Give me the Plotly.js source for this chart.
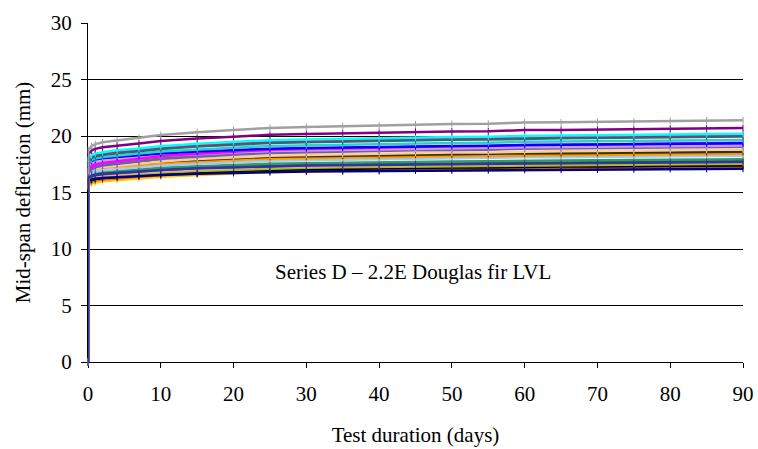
<!DOCTYPE html>
<html>
<head>
<meta charset="utf-8">
<script src="https://cdn.plot.ly/plotly-3.0.1.min.js"></script>
<style>html,body{margin:0;padding:0;background:#fff;}#chart{width:758px;height:449px;}</style>
</head>
<body>
<div id="chart"></div>
<script>
// Test duration (days)
var days = [0, 0.02, 0.5, 1, 2, 4, 7, 10, 15, 20, 25, 30, 35, 40, 45, 50, 55, 60, 65, 70, 75, 80, 85, 90];

// Mid-span deflection (mm) for each specimen
var specGray      = [0, 18.75, 19.12, 19.28, 19.44, 19.62, 19.84, 20.08, 20.34, 20.53, 20.71, 20.79, 20.87, 20.92, 21.03, 21.06, 21.08, 21.19, 21.21, 21.24, 21.27, 21.35, 21.37, 21.40];
var specPurple    = [0, 18.4, 18.72, 18.86, 19.0, 19.16, 19.34, 19.55, 19.78, 19.94, 20.1, 20.17, 20.24, 20.29, 20.38, 20.40, 20.42, 20.52, 20.54, 20.56, 20.59, 20.65, 20.68, 20.70];
var specCyan      = [0, 18.0, 18.31, 18.44, 18.57, 18.73, 18.9, 19.1, 19.32, 19.47, 19.63, 19.69, 19.76, 19.8, 19.89, 19.91, 19.94, 20.02, 20.05, 20.07, 20.09, 20.16, 20.18, 20.2];
var specRose      = [0, 17.9, 18.2, 18.33, 18.46, 18.61, 18.78, 18.98, 19.19, 19.34, 19.49, 19.56, 19.62, 19.66, 19.75, 19.77, 19.79, 19.88, 19.9, 19.92, 19.94, 20.01, 20.03, 20.05];
var specTeal      = [0, 17.75, 18.06, 18.19, 18.32, 18.48, 18.65, 18.85, 19.07, 19.22, 19.38, 19.44, 19.51, 19.55, 19.64, 19.66, 19.69, 19.77, 19.8, 19.82, 19.84, 19.91, 19.93, 19.95];
var specTurq      = [0, 17.6, 17.89, 18.01, 18.13, 18.28, 18.44, 18.63, 18.83, 18.97, 19.12, 19.18, 19.24, 19.28, 19.36, 19.38, 19.4, 19.49, 19.51, 19.53, 19.55, 19.61, 19.63, 19.65];
var specBlue      = [0, 17.55, 17.8, 17.91, 18.02, 18.14, 18.29, 18.45, 18.63, 18.76, 18.88, 18.94, 18.99, 19.03, 19.1, 19.12, 19.13, 19.21, 19.22, 19.24, 19.26, 19.31, 19.33, 19.35];
var specMagenta   = [0, 17.0, 17.34, 17.48, 17.62, 17.79, 17.98, 18.2, 18.44, 18.61, 18.78, 18.85, 18.92, 18.97, 19.06, 19.09, 19.11, 19.21, 19.23, 19.26, 19.28, 19.35, 19.38, 19.4];
var specViolet    = [0, 17.3, 17.56, 17.67, 17.78, 17.91, 18.06, 18.23, 18.41, 18.54, 18.67, 18.72, 18.78, 18.82, 18.89, 18.91, 18.93, 19.0, 19.02, 19.04, 19.06, 19.11, 19.13, 19.15];
var specGrayBlue  = [0, 16.9, 17.2, 17.33, 17.46, 17.61, 17.78, 17.98, 18.19, 18.34, 18.49, 18.56, 18.62, 18.66, 18.75, 18.77, 18.79, 18.88, 18.9, 18.92, 18.94, 19.01, 19.03, 19.05];
var specRoyal     = [0, 16.7, 17.06, 17.22, 17.38, 17.56, 17.77, 18.0, 18.26, 18.44, 18.62, 18.7, 18.78, 18.83, 18.94, 18.96, 18.99, 19.09, 19.12, 19.14, 19.17, 19.25, 19.27, 19.3];
var specPeach     = [0, 16.7, 16.99, 17.12, 17.25, 17.39, 17.56, 17.75, 17.96, 18.11, 18.25, 18.32, 18.38, 18.42, 18.51, 18.53, 18.55, 18.63, 18.65, 18.67, 18.7, 18.76, 18.78, 18.8];
var specOlive     = [0, 16.9, 17.14, 17.24, 17.34, 17.46, 17.6, 17.75, 17.92, 18.04, 18.16, 18.21, 18.26, 18.29, 18.36, 18.38, 18.4, 18.46, 18.48, 18.5, 18.52, 18.57, 18.58, 18.6];
var specOrange    = [0, 16.75, 16.98, 17.08, 17.18, 17.3, 17.43, 17.59, 17.75, 17.87, 17.99, 18.04, 18.09, 18.12, 18.19, 18.2, 18.22, 18.29, 18.3, 18.32, 18.34, 18.39, 18.4, 18.42];
var specSkyBlue   = [0, 16.5, 16.75, 16.85, 16.96, 17.08, 17.22, 17.38, 17.55, 17.67, 17.8, 17.85, 17.9, 17.93, 18.0, 18.02, 18.04, 18.11, 18.13, 18.14, 18.16, 18.21, 18.23, 18.25];
var specSeaGreen  = [0, 16.4, 16.62, 16.71, 16.8, 16.91, 17.04, 17.18, 17.33, 17.44, 17.55, 17.59, 17.64, 17.67, 17.73, 17.75, 17.76, 17.83, 17.84, 17.86, 17.87, 17.92, 17.93, 17.95];
var specGreen     = [0, 16.2, 16.42, 16.52, 16.62, 16.73, 16.86, 17.0, 17.16, 17.27, 17.38, 17.43, 17.48, 17.51, 17.58, 17.59, 17.61, 17.67, 17.69, 17.7, 17.72, 17.77, 17.78, 17.8];
var specPink      = [0, 16.1, 16.32, 16.41, 16.5, 16.61, 16.74, 16.88, 17.03, 17.14, 17.25, 17.29, 17.34, 17.37, 17.43, 17.45, 17.46, 17.53, 17.54, 17.56, 17.57, 17.62, 17.63, 17.65];
var specLime      = [0, 15.95, 16.17, 16.27, 16.37, 16.48, 16.61, 16.75, 16.91, 17.02, 17.13, 17.18, 17.23, 17.26, 17.33, 17.34, 17.36, 17.42, 17.44, 17.45, 17.47, 17.52, 17.53, 17.55];
var specBlack     = [0, 15.9, 16.11, 16.2, 16.29, 16.4, 16.52, 16.65, 16.8, 16.91, 17.01, 17.06, 17.1, 17.13, 17.19, 17.21, 17.22, 17.28, 17.3, 17.31, 17.33, 17.37, 17.39, 17.4];
var specRedOrange = [0, 15.75, 15.97, 16.06, 16.15, 16.26, 16.39, 16.53, 16.68, 16.79, 16.9, 16.94, 16.99, 17.02, 17.08, 17.1, 17.11, 17.18, 17.19, 17.21, 17.22, 17.27, 17.28, 17.3];
var specGold      = [0, 15.55, 15.79, 15.89, 15.99, 16.11, 16.25, 16.4, 16.57, 16.69, 16.81, 16.86, 16.91, 16.94, 17.01, 17.03, 17.05, 17.11, 17.13, 17.15, 17.17, 17.22, 17.23, 17.25];
var specNavy      = [0, 16.0, 16.15, 16.22, 16.29, 16.36, 16.45, 16.55, 16.66, 16.74, 16.81, 16.85, 16.88, 16.9, 16.95, 16.96, 16.97, 17.01, 17.02, 17.03, 17.05, 17.08, 17.09, 17.1];
var specSlate     = [0, 16.3, 16.5, 16.58, 16.66, 16.76, 16.87, 17.0, 17.14, 17.24, 17.34, 17.38, 17.42, 17.45, 17.5, 17.52, 17.53, 17.59, 17.6, 17.62, 17.63, 17.67, 17.69, 17.7];

var seriesList = [
  [specGold, '#FFCC00'], [specRedOrange, '#FF6600'], [specBlack, '#000000'], [specLime, '#99CC00'],
  [specPink, '#FF99CC'], [specGreen, '#008000'], [specSeaGreen, '#339966'], [specNavy, '#000080'],
  [specSkyBlue, '#99CCFF'], [specOrange, '#FF9900'], [specOlive, '#333300'], [specPeach, '#FFCC99'],
  [specRoyal, '#3366FF'], [specGrayBlue, '#666699'], [specViolet, '#CC99FF'], [specMagenta, '#FF00FF'],
  [specBlue, '#0000FF'], [specTurq, '#33CCCC'], [specTeal, '#008080'], [specRose, '#993366'],
  [specCyan, '#00FFFF'], [specPurple, '#800080'], [specGray, '#A0A0A0'], [specSlate, '#333399']
];

var FONT = 'Liberation Serif, Times New Roman, serif';

var traces = seriesList.map(function (s) {
  return {
    x: days, y: s[0], type: 'scatter', mode: 'lines+markers',
    line: {color: s[1], width: 2.5},
    marker: {symbol: 'line-ns-open', size: 5, line: {color: s[1], width: 1}},
    cliponaxis: false,
    showlegend: false, hoverinfo: 'skip'
  };
});

var layout = {
  width: 758, height: 449,
  margin: {l: 88, r: 15, t: 23, b: 87},
  paper_bgcolor: '#fff', plot_bgcolor: '#fff',
  font: {family: FONT, size: 21, color: '#000'},
  showlegend: false,
  xaxis: {
    range: [0, 90], dtick: 10, tick0: 0, showgrid: false, zeroline: false,
    showline: true, linecolor: '#000', linewidth: 1, layer: 'below traces',
    ticks: 'outside', ticklen: 5, tickcolor: '#000', tickwidth: 1,
    ticklabelstandoff: 8,
    tickfont: {family: FONT, size: 21, color: '#000'},
    title: {text: 'Test duration (days)', font: {family: FONT, size: 21, color: '#000'}, standoff: 22},
    automargin: false
  },
  yaxis: {
    range: [0, 30], dtick: 5, tick0: 0, showgrid: true, gridcolor: '#000', gridwidth: 1,
    zeroline: false, showline: true, linecolor: '#000', linewidth: 1, layer: 'below traces',
    ticks: 'outside', ticklen: 6, tickcolor: '#000', tickwidth: 1,
    ticklabelstandoff: 5,
    tickfont: {family: FONT, size: 21, color: '#000'},
    title: {text: 'Mid-span deflection (mm)', font: {family: FONT, size: 21, color: '#000'}, standoff: 14},
    automargin: false
  },
  annotations: [{
    x: 44.7, y: 8.0, xref: 'x', yref: 'y', showarrow: false,
    text: 'Series D – 2.2E Douglas fir LVL',
    font: {family: FONT, size: 21, color: '#000'}
  }]
};

Plotly.newPlot('chart', traces, layout, {staticPlot: true, displayModeBar: false});
</script>
</body>
</html>
